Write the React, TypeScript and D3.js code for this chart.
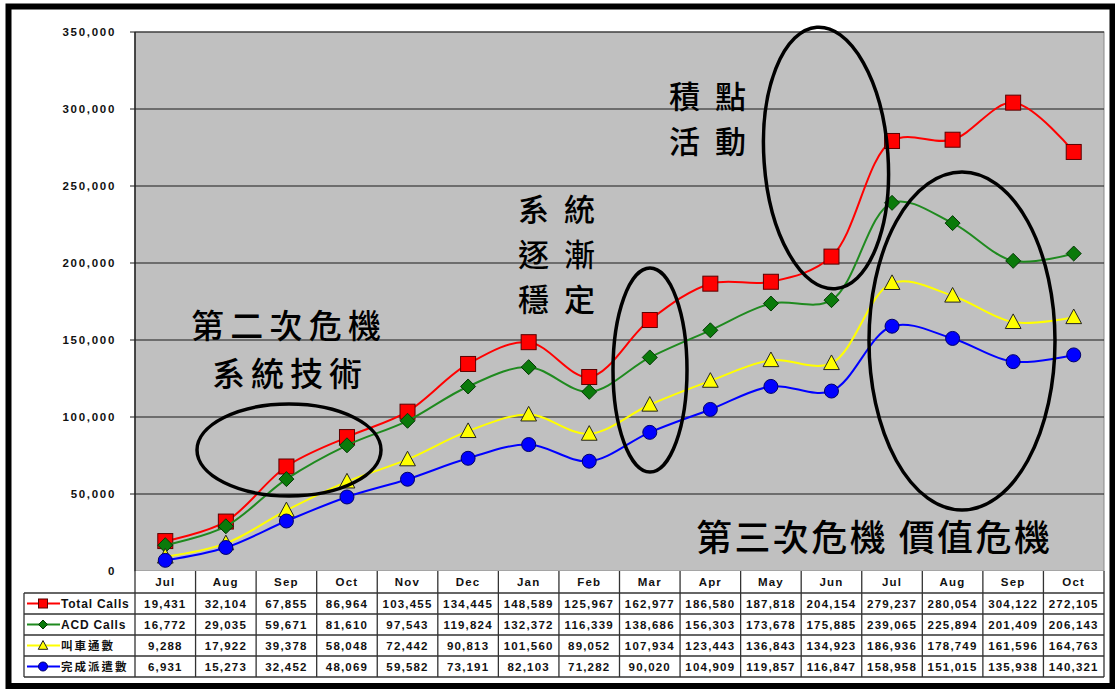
import React from "react";
import * as d3 from "d3";

const months = ["Jul","Aug","Sep","Oct","Nov","Dec","Jan","Feb","Mar","Apr","May","Jun","Jul","Aug","Sep","Oct"];
const totalCalls = [19431,32104,67855,86964,103455,134445,148589,125967,162977,186580,187818,204154,279237,280054,304122,272105];
const acdCalls = [16772,29035,59671,81610,97543,119824,132372,116339,138686,156303,173678,175885,239065,225894,201409,206143];
const callCarCount = [9288,17922,39378,58048,72442,90813,101560,89052,107934,123443,136843,134923,186936,178749,161596,164763];
const dispatchDone = [6931,15273,32452,48069,59582,73191,82103,71282,90020,104909,119857,116847,158958,151015,135938,140321];
const seriesNames = ["Total Calls","ACD Calls","叫車通數","完成派遣數"];
const yTicks = [0,50000,100000,150000,200000,250000,300000,350000];

const series = [
  { name: seriesNames[0], values: totalCalls, color: "#ff0000", marker: "square" },
  { name: seriesNames[1], values: acdCalls, color: "#1f8a1f", marker: "diamond" },
  { name: seriesNames[2], values: callCarCount, color: "#ffff00", marker: "triangle" },
  { name: seriesNames[3], values: dispatchDone, color: "#0000ff", marker: "circle" },
];

const L = 135, R = 1104, T = 32, B = 571;
const rowH = 21, headH = 22;
const tableTop = B, tableBottom = B + headH + 4 * rowH;
const legendLeft = 24;

const x = d3.scaleBand<number>().domain(d3.range(months.length)).range([L, R]).padding(0);
const y = d3.scaleLinear().domain([0, 350000]).range([B, T]);
const cx = (i: number) => (x(i) as number) + x.bandwidth() / 2;

const fmt = d3.format(",");
const FONT = "'Liberation Sans', Arial, sans-serif";
const CJK = "'Noto Sans CJK TC', 'Noto Sans CJK SC', sans-serif";

function Marker({ type, x0, y0, s, fill }: { type: string; x0: number; y0: number; s: number; fill: string }) {
  if (type === "square")
    return <rect x={x0 - s} y={y0 - s} width={2 * s} height={2 * s} fill={fill} stroke="#5a0000" strokeWidth={1} />;
  if (type === "diamond")
    return <path d={`M${x0},${y0 - s}L${x0 + s},${y0}L${x0},${y0 + s}L${x0 - s},${y0}Z`} fill="#0a7a0a" stroke="#063806" strokeWidth={1} />;
  if (type === "triangle")
    return <path d={`M${x0},${y0 - s * 1.1}L${x0 + s * 1.05},${y0 + s * 0.85}L${x0 - s * 1.05},${y0 + s * 0.85}Z`} fill={fill} stroke="#222" strokeWidth={1} />;
  return <circle cx={x0} cy={y0} r={s} fill={fill} stroke="#00006a" strokeWidth={1} />;
}

export default function App() {
  const line = d3.line<number>().x((_, i) => cx(i)).y((d) => y(d)).curve(d3.curveCatmullRom.alpha(0.5));
  const rows = series.map((s, r) => tableTop + headH + r * rowH);
  const isLatin = (n: string) => /[A-Za-z]/.test(n);
  return (
    <svg width={1115} height={690} style={{ position: "absolute", left: 0, top: 0, background: "#fff" }}>
      {/* plot area */}
      <rect x={L} y={T} width={R - L} height={B - T} fill="#c0c0c0" stroke="#8a8a8a" strokeWidth={1} />
      {yTicks.filter((t) => t > 0).map((t) => (
        <line key={t} x1={L - 5} x2={R} y1={y(t)} y2={y(t)} stroke="#1a1a1a" strokeWidth={1} />
      ))}
      <line x1={L} x2={L} y1={T} y2={B} stroke="#222" strokeWidth={1.5} />
      {yTicks.map((t) => (
        <text key={t} x={116} y={y(t) + 4} textAnchor="end" fontFamily={FONT} fontWeight="bold" fontSize={11.5} letterSpacing={1.7} fill="#111">
          {fmt(t)}
        </text>
      ))}

      {/* series */}
      {series.map((s) => (
        <g key={s.name}>
          <path d={line(s.values) || ""} fill="none" stroke={s.color} strokeWidth={2} />
          {s.values.map((v, i) => (
            <Marker key={i} type={s.marker} x0={cx(i)} y0={y(v)} s={s.marker === "circle" ? 7 : 7.5} fill={s.color} />
          ))}
        </g>
      ))}

      {/* table */}
      <g>
        <rect x={L} y={tableTop} width={R - L} height={tableBottom - tableTop} fill="#fff" />
        {months.map((m, i) => (
          <text key={i} x={cx(i)} y={tableTop + 15} textAnchor="middle" fontFamily={FONT} fontWeight="bold" fontSize={11.5} letterSpacing={1.2} fill="#111">
            {m}
          </text>
        ))}
        {series.map((s, r) => (
          <g key={s.name}>
            {s.values.map((v, i) => (
              <text key={i} x={cx(i)} y={rows[r] + 15} textAnchor="middle" fontFamily={FONT} fontWeight="bold" fontSize={11.5} letterSpacing={1.2} fill="#111">
                {fmt(v)}
              </text>
            ))}
            <line x1={27} x2={60} y1={rows[r] + rowH / 2} y2={rows[r] + rowH / 2} stroke={s.color} strokeWidth={2} />
            <Marker type={s.marker} x0={43} y0={rows[r] + rowH / 2} s={4.5} fill={s.color} />
            <text x={61} y={rows[r] + 15} fontFamily={isLatin(s.name) ? FONT : CJK} fontWeight="bold" fontSize={isLatin(s.name) ? 12 : 11.5} letterSpacing={isLatin(s.name) ? 0.8 : 2} fill="#111">
              {s.name}
            </text>
          </g>
        ))}
        {d3.range(months.length + 1).map((i) => {
          const xx = i === months.length ? R : (x(i) as number);
          return <line key={i} x1={xx} x2={xx} y1={tableTop} y2={tableBottom} stroke="#333" strokeWidth={1.3} />;
        })}
        {[0, 1, 2, 3, 4].map((k) => {
          const yy = tableTop + headH + k * rowH;
          return <line key={k} x1={legendLeft} x2={R} y1={yy} y2={yy} stroke="#333" strokeWidth={1.6} />;
        })}
        <line x1={legendLeft} x2={legendLeft} y1={tableTop + headH} y2={tableBottom} stroke="#333" strokeWidth={1.3} />
      </g>

      {/* annotation ellipses */}
      <g fill="none" stroke="#000" strokeWidth={3.5}>
        <ellipse cx={289} cy={450} rx={92} ry={46} />
        <ellipse cx={650} cy={370} rx={37} ry={102} />
        <ellipse cx={826} cy={158} rx={62} ry={131} transform="rotate(-4 826 158)" />
        <ellipse cx={962} cy={341} rx={93} ry={169} />
      </g>

      {/* annotation texts */}
      <g fontFamily={CJK} fill="#000" fontWeight={500}>
        <text x={191} y={338} fontSize={33} textLength={190} lengthAdjust="spacing">第二次危機</text>
        <text x={212} y={386} fontSize={33} textLength={150} lengthAdjust="spacing">系統技術</text>
        <text x={518} y={221} fontSize={31} textLength={77} lengthAdjust="spacing">系統</text>
        <text x={518} y={266} fontSize={31} textLength={77} lengthAdjust="spacing">逐漸</text>
        <text x={518} y={311} fontSize={31} textLength={77} lengthAdjust="spacing">穩定</text>
        <text x={669} y={108} fontSize={31} textLength={77} lengthAdjust="spacing">積點</text>
        <text x={669} y={153} fontSize={31} textLength={77} lengthAdjust="spacing">活動</text>
        <text x={696} y={551} fontSize={36} textLength={354} lengthAdjust="spacing">第三次危機 價值危機</text>
      </g>

      {/* outer frame */}
      <rect x={8.5} y={6.5} width={1104} height={679.5} fill="none" stroke="#000" strokeWidth={6} />
    </svg>
  );
}
